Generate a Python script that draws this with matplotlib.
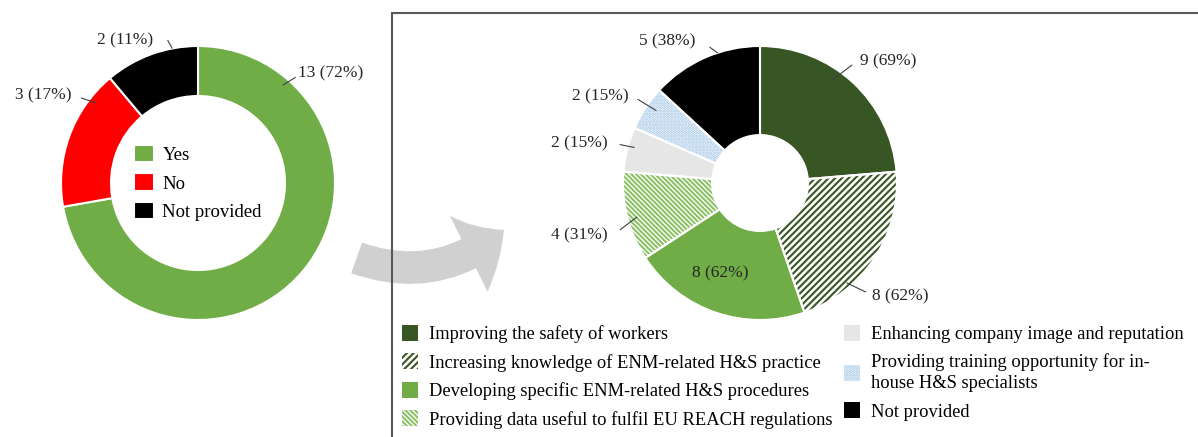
import matplotlib.pyplot as plt
from matplotlib.patches import Rectangle, FancyArrowPatch

plt.rcParams["font.family"] = "Liberation Serif"
plt.rcParams["hatch.linewidth"] = 1.5

# left donut: answers of all companies
left_labels = ["Yes", "No", "Not provided"]
left_values = [13, 3, 2]
left_colors = ["#70AD47", "#FF0000", "#000000"]

# right donut: benefits named by the "Yes" companies
right_labels = [
    "Improving the safety of workers",
    "Increasing knowledge of ENM-related H&S practice",
    "Developing specific ENM-related H&S procedures",
    "Providing data useful to fulfil EU REACH regulations",
    "Enhancing company image and reputation",
    "Providing training opportunity for in-\nhouse H&S specialists",
    "Not provided",
]
right_values = [9, 8, 8, 4, 2, 2, 5]
right_faces = ["#375623", "white", "#70AD47", "white", "#E7E6E6", "white", "#000000"]
right_hatch_colors = ["#375623", "#375623", "#70AD47", "#8CC168", "#E7E6E6", "#9DC3E6", "#000000"]
right_hatches = [None, "/////", None, "\\" * 7, None, "......", None]

# label layout (unit radius = outer ring): text xy, ha, leader line (ring end, text end)
left_label_layout = [
    ((0.73, 0.80), "left", (0.62, 0.715), (0.71, 0.77)),
    ((-0.92, 0.64), "right", (-0.745, 0.584), (-0.85, 0.62)),
    ((-0.53, 1.04), "center", (-0.19, 0.985), (-0.22, 1.04)),
]
right_label_layout = [
    ((0.73, 0.89), "left", (0.525, 0.75), (0.67, 0.86)),
    ((0.82, -0.83), "left", (0.635, -0.73), (0.77, -0.795)),
    ((-0.29, -0.66), "center", None, None),
    ((-1.11, -0.38), "right", (-0.90, -0.25), (-1.02, -0.34)),
    ((-1.11, 0.29), "right", (-0.92, 0.26), (-1.02, 0.28)),
    ((-0.96, 0.63), "right", (-0.76, 0.53), (-0.89, 0.61)),
    ((-0.47, 1.03), "right", (-0.31, 0.95), (-0.365, 0.99)),
]

W, H = 1198, 437
fig = plt.figure(figsize=(W / 100, H / 100), dpi=100)
text_color = "#262626"


def donut_axes(cx, cy, r, lim=1.45):
    half = r * lim
    ax = fig.add_axes([(cx - half) / W, (H - cy - half) / H, 2 * half / W, 2 * half / H])
    ax.set_xlim(-lim, lim)
    ax.set_ylim(-lim, lim)
    ax.set_aspect("equal")
    ax.axis("off")
    return ax


def add_labels(ax, values, total, layout):
    for v, (txy, ha, p0, p1) in zip(values, layout):
        if p0 is not None:
            ax.plot([p0[0], p1[0]], [p0[1], p1[1]], color="#404040", lw=0.8, zorder=5)
        ax.text(txy[0], txy[1], f"{v} ({round(100 * v / total)}%)", ha=ha, va="center",
                fontsize=12.5, color=text_color, zorder=5)


# frame around the right panel and the arrow under it
fig.patches.append(Rectangle((392 / W, -0.2), 1.0, 1.2 - 13 / H, transform=fig.transFigure,
                             fill=False, edgecolor="#595959", lw=1.5, zorder=3))
fig.patches.append(FancyArrowPatch((354 / W, 1 - 257 / H), (506 / W, 1 - 228 / H),
                                   transform=fig.transFigure,
                                   connectionstyle="arc3,rad=0.3",
                                   arrowstyle="simple,head_length=1.7,head_width=3.4,tail_width=1.3",
                                   mutation_scale=18, color="#D0D0D0", lw=0, zorder=1))

# left donut
ax1 = donut_axes(198, 183, 137)
wedges1, _ = ax1.pie(left_values, colors=left_colors, startangle=90, counterclock=False,
                     radius=1.0, wedgeprops=dict(width=0.365, edgecolor="white", linewidth=1.5))
ax1.set_xlim(-1.45, 1.45)
ax1.set_ylim(-1.45, 1.45)
add_labels(ax1, left_values, sum(left_values), left_label_layout)
ax1.legend(wedges1, left_labels, loc="center", bbox_to_anchor=(0.0, 0.0),
           bbox_transform=ax1.transData, frameon=False, fontsize=13.5,
           handlelength=1.05, handleheight=1.05, handletextpad=0.45, labelspacing=0.5)

# right donut
ax2 = donut_axes(760, 183, 137)
wedges2, _ = ax2.pie(right_values, colors=right_faces, startangle=90, counterclock=False,
                     radius=1.0, wedgeprops=dict(width=0.65, linewidth=0))
for w, hc, h in zip(wedges2, right_hatch_colors, right_hatches):
    w.set_edgecolor(hc)
    w.set_hatch(h)
ax2.pie(right_values, colors=["none"] * len(right_values), startangle=90, counterclock=False,
        radius=1.0, wedgeprops=dict(width=0.65, edgecolor="white", linewidth=1.5))
ax2.set_xlim(-1.45, 1.45)
ax2.set_ylim(-1.45, 1.45)
n_yes = left_values[0]
add_labels(ax2, right_values, n_yes, right_label_layout)

leg = fig.legend(wedges2, right_labels, ncol=2, loc="upper left",
                 bbox_to_anchor=(402 / W, 1 - 325 / H), frameon=False, fontsize=13.3,
                 handlelength=0.85, handleheight=0.95, handletextpad=0.6, labelspacing=0.55,
                 columnspacing=0.65, borderaxespad=0, borderpad=0)
for t in leg.get_texts():
    t.set_linespacing(1.3)

fig.savefig("out.png", dpi=100)
